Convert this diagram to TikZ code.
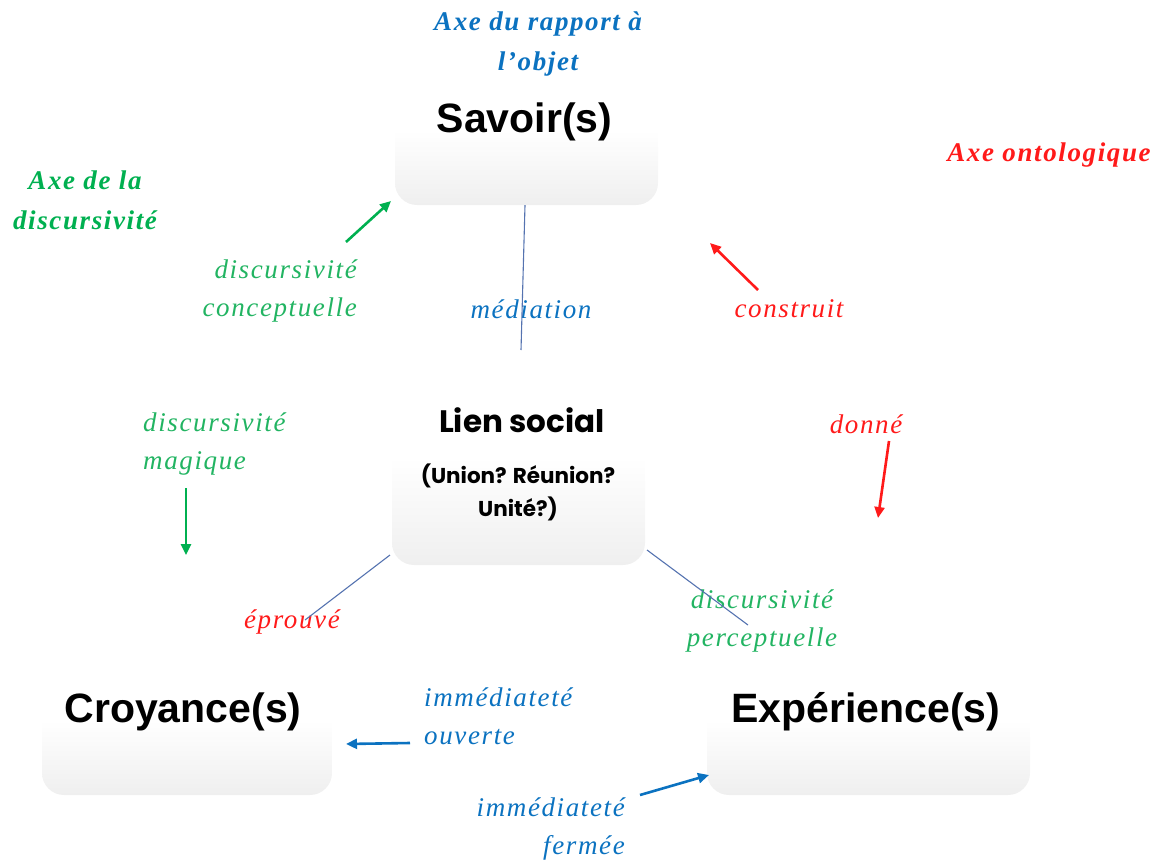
\documentclass[tikz,border=0pt]{standalone}
\usepackage{fontspec}
\setmainfont{Liberation Serif}
\newfontfamily\boxfont{Liberation Sans}
\newfontfamily\comicfont{Poppins}
\newfontfamily\labfont[LetterSpace=6]{Liberation Serif}
\usetikzlibrary{arrows.meta}
\definecolor{cgreen}{HTML}{00B050}
\definecolor{lgreen}{HTML}{22B462}
\definecolor{cred}{HTML}{FF1A1A}
\definecolor{cblue}{HTML}{0B72C0}
\definecolor{lineblue}{HTML}{5573B0}
\pgfdeclareverticalshading{boxshade}{100bp}{color(0bp)=(black!11); color(12bp)=(black!9); color(55bp)=(white); color(100bp)=(white)}
\tikzset{
  box/.style={rounded corners=22pt, shading=boxshade, inner sep=0pt},
  boxtxt/.style={font=\boxfont\bfseries\fontsize{41}{45}\selectfont, inner sep=0pt},
  lab/.style={font=\labfont\itshape\fontsize{27}{38}\selectfont, inner sep=0pt},
  axe/.style={font=\labfont\bfseries\itshape\fontsize{27}{40}\selectfont, inner sep=0pt},
  link/.style={lineblue, line width=1.1pt},
  arr/.style={line width=2.6pt, -{Triangle[length=11pt,width=10pt]}}
}
\begin{document}
\begin{tikzpicture}[x=1pt,y=-1pt]
\useasboundingbox (0,0) rectangle (1164,862);
% boxes
\node[box, minimum width=263pt, minimum height=125pt] (savoir) at (526.5,142.5) {};
\node[box, minimum width=253pt, minimum height=180pt] (lien) at (518.5,475) {};
\node[box, minimum width=290pt, minimum height=125pt] (croy) at (187,732.5) {};
\node[box, minimum width=323pt, minimum height=125pt] (exp) at (868.5,732.5) {};
% box texts
\node[boxtxt] (savoirT) at (524.5,122) {Savoir(s)};
\node[boxtxt] (croyT) at (183,712) {Croyance(s)};
\node[boxtxt] (expT) at (866,712) {Expérience(s)};
\node[font=\comicfont\bfseries\fontsize{31}{34}\selectfont, inner sep=0pt] (lienT) at (522,420) {Lien social};
\node[font=\comicfont\bfseries\fontsize{21.5}{33}\selectfont, align=center, inner sep=0pt] (lienS) at (518,492) {(Union? Réunion?\\Unité?)};
% axis titles
\node[axe, cblue, align=center] (axeObj) at (538,44) {Axe du rapport à\\l’objet};
\node[axe, cred] (axeOnt) at (1049,155) {Axe ontologique};
\node[axe, cgreen, align=center] (axeDisc) at (85,200) {Axe de la\\discursivité};
% labels
\node[lab, lgreen, align=right, anchor=east] (concept) at (357,291) {discursivité\\conceptuelle};
\node[lab, cblue] (mediation) at (531,309) {médiation};
\node[lab, cred] (construit) at (789,309) {construit};
\node[lab, lgreen, align=left, anchor=west] (magique) at (143,444) {discursivité\\magique};
\node[lab, cred] (donne) at (866,424) {donné};
\node[lab, cred] (eprouve) at (292,622) {éprouvé};
\node[lab, lgreen, align=center] (percept) at (762,621) {discursivité\\perceptuelle};
\node[lab, cblue, align=left, anchor=west] (ouverte) at (424,716) {immédiateté\\ouverte};
\node[lab, cblue, align=right, anchor=east] (fermee) at (625,829) {immédiateté\\fermée};
% link lines
\coordinate (medEnd) at (521,350);
\coordinate (eprEnd) at (305,620);
\coordinate (perEnd) at (748,625);
\coordinate (lw) at (390,555);
\coordinate (le) at (647,550);
\draw[link] (savoir.south -| 525,0) -- (medEnd);
\draw[link] (lw) -- (eprEnd);
\draw[link] (le) -- (perEnd);
% arrows
\coordinate (a1s) at (346,242); \coordinate (a1e) at (391,201);
\coordinate (a2s) at (758,290); \coordinate (a2e) at (710,243);
\coordinate (a3s) at (889,441); \coordinate (a3e) at (878,518);
\coordinate (a4s) at (186,488); \coordinate (a4e) at (186,555);
\coordinate (a5s) at (410,743); \coordinate (a5e) at (346,744);
\coordinate (a6s) at (640,795); \coordinate (a6e) at (709,775);
\draw[arr, cgreen] (a1s) -- (a1e);
\draw[arr, cred] (a2s) -- (a2e);
\draw[arr, cred] (a3s) -- (a3e);
\draw[arr, cgreen] (a4s) -- (a4e);
\draw[arr, cblue] (a5s) -- (a5e);
\draw[arr, cblue] (a6s) -- (a6e);
\end{tikzpicture}
\end{document}
